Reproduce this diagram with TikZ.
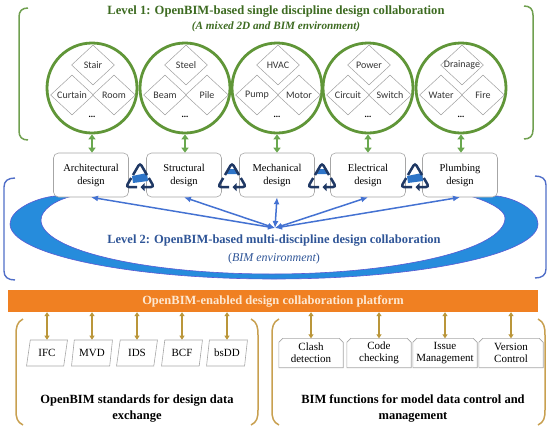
\documentclass[tikz,border=0pt]{standalone}
\usepackage{fontspec}
\setmainfont{Liberation Serif}
\newfontfamily\carlito{Carlito}
\usetikzlibrary{arrows.meta,shapes.geometric,calc}
\definecolor{gdark}{RGB}{61,107,33}
\definecolor{gcirc}{RGB}{96,150,56}
\definecolor{garr}{RGB}{106,168,79}
\definecolor{gbrk}{RGB}{112,160,80}
\definecolor{bnavy}{RGB}{31,56,100}
\definecolor{bicon}{RGB}{46,117,200}
\definecolor{barr}{RGB}{68,114,210}
\definecolor{btxt}{RGB}{47,85,151}
\definecolor{bfill}{RGB}{38,140,220}
\definecolor{bedge}{RGB}{90,90,210}
\definecolor{bbrk}{RGB}{80,110,200}
\definecolor{orng}{RGB}{240,128,34}
\definecolor{peach}{RGB}{253,232,210}
\definecolor{tanarr}{RGB}{186,150,58}
\definecolor{tanbrk}{RGB}{200,160,80}
\tikzset{
  l1title/.style={font=\bfseries\fontsize{12.6}{14}\selectfont, text=gdark},
  l1sub/.style={font=\bfseries\itshape\fontsize{11.2}{13}\selectfont, text=gdark},
  l2title/.style={font=\bfseries\fontsize{12.5}{14}\selectfont, text=btxt},
  l2sub/.style={font=\fontsize{12}{14}\selectfont, text=btxt},
  disc/.style={circle, draw=gcirc, line width=2.8pt, minimum size=90pt, inner sep=0pt},
  dia/.style={diamond, draw=gray!75, line width=0.5pt, minimum width=43pt, minimum height=40pt, inner sep=0pt},
  dtxt/.style={font=\carlito\fontsize{10}{12}\selectfont, text=black!80, inner sep=0pt},
  dotsty/.style={font=\bfseries\fontsize{9}{10}\selectfont, inner sep=0pt},
  dbox/.style={rectangle, rounded corners=5pt, draw=gray!70, fill=white, line width=0.6pt, minimum width=75pt, minimum height=44pt, align=center, font=\fontsize{10.5}{13}\selectfont},
  garrow/.style={draw=garr, line width=2pt, {Triangle[length=5pt,width=7pt]}-{Triangle[length=5pt,width=7pt]}},
  barrow/.style={draw=barr, line width=1.5pt, {Latex[length=7pt,width=6pt]}-{Latex[length=7pt,width=6pt]}},
  tarrow/.style={draw=tanarr, line width=1.2pt, {Triangle[length=4pt,width=5pt]}-{Triangle[length=4pt,width=5pt]}},
  gbrkst/.style={draw=gbrk, line width=1.5pt},
  bbrkst/.style={draw=bbrk, line width=1.4pt},
  tbrkst/.style={draw=tanbrk, line width=1.5pt},
  platform/.style={rectangle, fill=orng, minimum width=530pt, minimum height=22pt, inner sep=0pt, text=peach, font=\bfseries\fontsize{12.5}{14}\selectfont},
  para/.style={trapezium, trapezium left angle=77, trapezium right angle=103, trapezium stretches=true, draw=gray!70, line width=0.6pt, minimum width=41pt, minimum height=26pt, inner sep=1pt, font=\fontsize{11}{12}\selectfont},
  fbox/.style={rectangle, minimum width=64pt, minimum height=29pt, inner sep=0pt, align=center, font=\fontsize{11}{12}\selectfont},
  chline/.style={draw=gray!70, line width=0.6pt},
  bhead/.style={align=center, font=\bfseries\fontsize{12.5}{16}\selectfont},
  recA/.pic={
    \fill[bicon] (-8,1) -- (7,-2) -- (8,6) -- (-7,8) -- cycle;
    \draw[bnavy, line width=2.5pt, rounded corners=3pt] (-7,0) -- (0,-12) -- (7,0);
    \draw[bnavy, line width=2.5pt, rounded corners=3pt] (8.8,3) -- (14,12) -- (4,12);
    \draw[bnavy, line width=2.5pt, rounded corners=3pt] (-3,12) -- (-14,12) -- (-8.8,3);
    \fill[bnavy] (4.5,8) -- (4.5,16) -- (0.5,12) -- cycle;
  },
  recB/.pic={
    \fill[bicon] (-6,-1) -- (-3,-6) -- (3,-6) -- (6,-1) -- cycle;
    \draw[bnavy, line width=2.5pt, rounded corners=3pt] (-7,0) -- (0,-12) -- (7,0);
    \draw[bnavy, line width=2.5pt, rounded corners=3pt] (8.8,3) -- (14,12) -- (4,12);
    \draw[bnavy, line width=2.5pt, rounded corners=3pt] (-3,12) -- (-14,12) -- (-8.8,3);
    \fill[bnavy] (4.5,8) -- (4.5,16) -- (0.5,12) -- cycle;
  }
}
\begin{document}
\begin{tikzpicture}[x=1pt,y=-1pt]
\useasboundingbox (0,0) rectangle (550,429);

% crescent
\path[fill=bfill, draw=bedge, line width=0.6pt] (55,196) .. controls (35,198) and (10,210) .. (10,224) .. controls (10,254) and (128,279) .. (274,279) .. controls (420,279) and (538,254) .. (538,224) .. controls (538,210) and (515,198) .. (497,196) -- (470,196) .. controls (490,202) and (505,210) .. (505,218) .. controls (505,249) and (400,274) .. (272,274) .. controls (144,274) and (41,250) .. (41,220) .. controls (41,210) and (55,200) .. (73,196) -- cycle;

% brackets
\draw[gbrkst] (28,8) .. controls (22,8) and (19,11) .. (19,17) -- (19,131) .. controls (19,137) and (22,140) .. (28,140);
\draw[gbrkst] (524,6) .. controls (530,6) and (533,9) .. (533,15) -- (533,130) .. controls (533,136) and (530,139) .. (524,139);
\draw[bbrkst] (15,178) .. controls (8,178) and (4,181) .. (4,187) -- (4,271) .. controls (4,277) and (8,280) .. (15,280);
\draw[bbrkst] (535,176) .. controls (542,176) and (546,179) .. (546,185) -- (546,269) .. controls (546,275) and (542,278) .. (535,278);

% titles
\node[l1title] (t1) at (276,12) {Level 1: OpenBIM-based single discipline design collaboration};
\node[l1sub] (t1s) at (276,27) {(A mixed 2D and BIM environment)};

\coordinate (hub) at (275,228);

\foreach \i/\x/\bx/\t/\l/\r/\lab in {1/92/91/Stair/Curtain/Room/Architectural, 2/185/184/Steel/Beam/Pile/Structural, 3/277/277/HVAC/Pump/Motor/Mechanical, 4/368/368/Power/Circuit/Switch/Electrical, 5/461/460/Drainage/Water/Fire/Plumbing}{
  \node[disc] (c\i) at (\x,88) {};
  \node[dia] (dt\i) at (\x+1,65) {};
  \node[dtxt] at (dt\i) {\t};
  \node[dia] (dl\i) at (\x-20,95) {};
  \node[dtxt] at (dl\i) {\l};
  \node[dia] (dr\i) at (\x+22,95) {};
  \node[dtxt] at (dr\i) {\r};
  \node[dotsty] (dd\i) at (\x,117) {...};
  \node[dbox] (b\i) at (\bx,175) {\lab\\design};
  \draw[garrow] (c\i.south) -- (c\i.south |- b\i.north);
  \draw[barrow] (hub) -- (b\i.south);
}

% recycle icons
\pic (r1) at (140,175) {recA};
\pic (r2) at (232,175) {recB};
\pic (r3) at (322,175) {recB};
\pic (r4) at (415,175) {recA};

% level 2
\node[l2title] (t2) at (274,241) {Level 2: OpenBIM-based multi-discipline design collaboration};
\node[l2sub] (t2s) at (274,259) {({\itshape BIM environment})};

% platform
\node[platform] (pf) at (273,301) {OpenBIM-enabled design collaboration platform};

% standards
\foreach \i/\x/\lab in {1/47/IFC, 2/92/MVD, 3/137/IDS, 4/182/BCF, 5/227/bsDD}{
  \node[para] (s\i) at (\x,353) {\lab};
  \draw[tarrow] (pf.south -| s\i.north) -- (s\i.north);
}
% BIM functions
\foreach \i/\x/\lab in {1/311/Clash\\detection, 2/379/Code\\checking, 3/445/Issue\\Management, 4/511/Version\\Control}{
  \node[fbox] (f\i) at (\x,353) {\lab};
  \draw[chline] (f\i.south west) -- ($(f\i.north west)+(0,4)$) -- ($(f\i.north west)+(4,0)$) -- ($(f\i.north east)+(-4,0)$) -- ($(f\i.north east)+(0,4)$) -- (f\i.south east) -- cycle;
  \draw[tarrow] (pf.south -| f\i.north) -- (f\i.north);
}

% tan brackets
\draw[tbrkst] (23,319) .. controls (17,322) and (16,327) .. (16,335) -- (16,410) .. controls (16,418) and (17,422) .. (23,425);
\draw[tbrkst] (251,319) .. controls (257,322) and (258,327) .. (258,335) -- (258,410) .. controls (258,418) and (257,422) .. (251,425);
\draw[tbrkst] (279,319) .. controls (273,322) and (272,327) .. (272,335) -- (272,410) .. controls (272,418) and (273,422) .. (279,425);
\draw[tbrkst] (538,319) .. controls (544,322) and (545,327) .. (545,335) -- (545,410) .. controls (545,418) and (544,422) .. (538,425);

\node[bhead] (h1) at (137,408) {OpenBIM standards for design data\\exchange};
\node[bhead] (h2) at (413,408) {BIM functions for model data control and\\management};
\end{tikzpicture}
\end{document}
